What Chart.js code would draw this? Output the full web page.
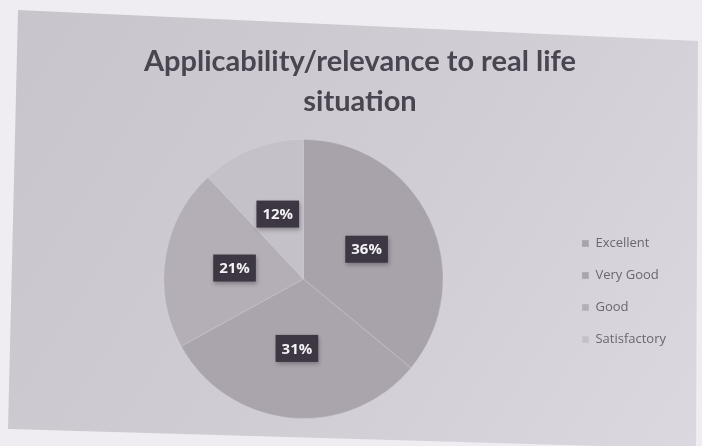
<!DOCTYPE html>
<html>
<head>
<meta charset="utf-8">
<title>Applicability/relevance to real life situation</title>
<script src="https://cdn.jsdelivr.net/npm/chart.js@4"></script>
<style>
  html, body { margin: 0; padding: 0; background: #efedf2; }
  #pie { display: block; }
</style>
</head>
<body>
<canvas id="pie" width="702" height="446"></canvas>
<script>
// ratings and their share of responses (%)
var categories = ['Excellent', 'Very Good', 'Good', 'Satisfactory'];
var shares = [36, 31, 21, 12];
var sliceColors = ['#a8a2ab', '#aaa5ad', '#b4afb7', '#c5c1c8'];
var titleLines = ['Applicability/relevance to real life', 'situation'];

// slide background behind the chart
var slideBackground = {
  id: 'slideBackground',
  beforeDraw: function(chart) {
    var c = chart.ctx;
    c.save();
    c.fillStyle = '#efedf2';
    c.fillRect(0, 0, chart.width, chart.height);
    var g = c.createLinearGradient(0, 0, chart.width, chart.height);
    g.addColorStop(0, '#c8c4cb');
    g.addColorStop(0.55, '#d1cdd4');
    g.addColorStop(1, '#dcd8df');
    c.fillStyle = g;
    c.beginPath();
    c.moveTo(18, 10);
    c.lineTo(698, 41);
    c.lineTo(696, 446);
    c.lineTo(600, 446);
    c.lineTo(8, 429);
    c.closePath();
    c.fill();
    c.restore();
  }
};

// dark boxes with the percentage on each slice
var sliceLabels = {
  id: 'sliceLabels',
  afterDatasetsDraw: function(chart) {
    var c = chart.ctx;
    var meta = chart.getDatasetMeta(0);
    c.save();
    c.font = 'bold 15px "Open Sans", sans-serif';
    c.textAlign = 'center';
    c.textBaseline = 'middle';
    meta.data.forEach(function(arc, i) {
      var p = arc.tooltipPosition();
      var txt = shares[i] + '%';
      var w = c.measureText(txt).width + 12;
      var h = 27;
      c.shadowColor = 'rgba(40,35,45,0.35)';
      c.shadowBlur = 4;
      c.shadowOffsetX = 1;
      c.shadowOffsetY = 2;
      c.fillStyle = '#3d3643';
      c.fillRect(p.x - w / 2, p.y - h / 2, w, h);
      c.shadowColor = 'transparent';
      c.fillStyle = '#f4f2f5';
      c.fillText(txt, p.x, p.y + 1);
    });
    c.restore();
  }
};

var ctx = document.getElementById('pie').getContext('2d');
var chart = new Chart(ctx, {
  type: 'pie',
  data: {
    labels: categories,
    datasets: [{
      data: shares,
      backgroundColor: sliceColors,
      borderColor: 'rgba(215,211,218,0.3)',
      borderWidth: 1
    }]
  },
  options: {
    responsive: false,
    maintainAspectRatio: false,
    animation: false,
    layout: {
      padding: { top: 12, left: 44, right: 26, bottom: 27 }
    },
    plugins: {
      title: {
        display: true,
        text: titleLines,
        color: '#4a4550',
        font: { family: 'Lato, sans-serif', size: 29, weight: 'bold', lineHeight: 1.36 },
        padding: { top: 30, bottom: 18 }
      },
      legend: {
        position: 'right',
        // empty title only pushes the items down beside the pie
        title: { display: true, text: '', padding: { top: 140, bottom: 0 }, font: { size: 10 } },
        labels: {
          boxWidth: 7,
          boxHeight: 7,
          padding: 19,
          color: '#6b6670',
          font: { family: '"Open Sans", sans-serif', size: 13 }
        }
      },
      tooltip: { enabled: false }
    }
  },
  plugins: [slideBackground, sliceLabels]
});
</script>
</body>
</html>
